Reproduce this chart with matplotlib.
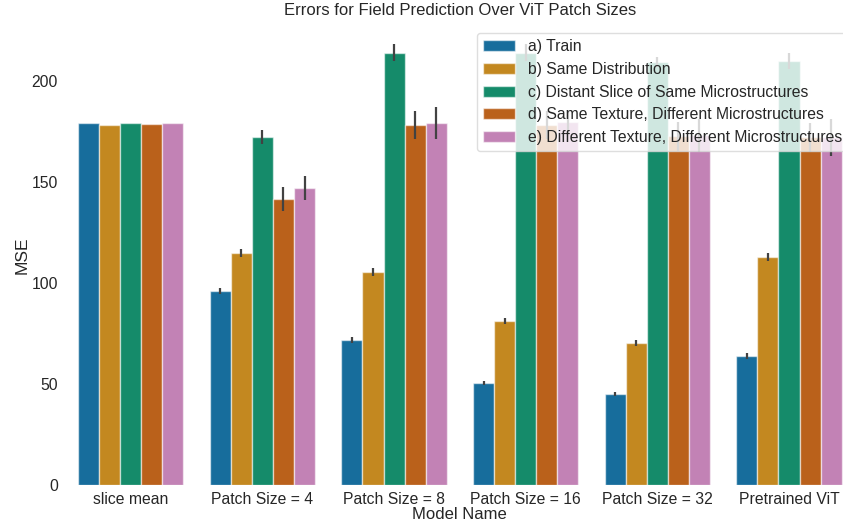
import numpy as np
import matplotlib
matplotlib.use("Agg")
import matplotlib.pyplot as plt
import seaborn as sns

# MSE per model for each evaluation split, with the spread shown as error bars
models = ["slice mean", "Patch Size = 4", "Patch Size = 8",
          "Patch Size = 16", "Patch Size = 32", "Pretrained ViT"]
splits = ["a) Train", "b) Same Distribution",
          "c) Distant Slice of Same Microstructures",
          "d) Same Texture, Different Microstructures",
          "e) Different Texture, Different Microstructures"]

train = [179, 96, 72, 50.5, 45, 64]
same_dist = [178, 115, 105.5, 81, 70.5, 113]
distant_slice = [179, 172, 214, 214, 209.5, 210]
same_texture = [178.5, 141.5, 178, 178, 172.5, 172]
diff_texture = [179, 147, 179, 179.5, 173, 172]

train_err = [0, 1.5, 1.5, 1.2, 1.0, 1.5]
same_dist_err = [0, 2, 2, 1.5, 1.5, 2]
distant_slice_err = [0, 3.5, 4, 4, 2.5, 4]
same_texture_err = [0, 6, 7, 7, 7, 7]
diff_texture_err = [0, 6, 8, 6, 8, 9]

values = [train, same_dist, distant_slice, same_texture, diff_texture]
errors = [train_err, same_dist_err, distant_slice_err,
          same_texture_err, diff_texture_err]

plt.rcParams["font.family"] = ["Liberation Sans", "DejaVu Sans"]
colors = sns.color_palette("colorblind", desat=0.75)

fig = plt.figure(figsize=(8.43, 5.25), dpi=100)
ax = fig.add_axes([0.077, 0.076, 0.937, 0.874])

x = np.arange(len(models))
width = 0.8 / len(splits)
for i, (label, vals, errs) in enumerate(zip(splits, values, errors)):
    pos = x - 0.4 + width * (i + 0.5)
    ax.bar(pos, vals, width, color=colors[i], label=label,
           edgecolor=(1, 1, 1, 0.55), linewidth=1)
    errs = np.array(errs)
    has_err = errs > 0
    ax.errorbar(pos[has_err], np.array(vals)[has_err], yerr=errs[has_err],
                fmt="none", ecolor="#424242", elinewidth=1.6, capsize=0)

ax.set_xlim(-0.5, len(models) - 0.5)
ax.set_ylim(0, 227)
ax.set_xticks(x)
ax.set_xticklabels(models)
ax.set_yticks([0, 50, 100, 150, 200])
ax.tick_params(axis="both", length=0, labelsize=11.3, colors="#262626", pad=5)
for side in ["top", "right", "left", "bottom"]:
    ax.spines[side].set_visible(False)

ax.set_xlabel("Model Name", fontsize=12, color="#262626", labelpad=0)
ax.set_ylabel("MSE", fontsize=12.5, color="#262626", labelpad=1)
ax.set_title("Errors for Field Prediction Over ViT Patch Sizes",
             fontsize=12, color="#262626", pad=8)

leg = ax.legend(loc="upper right", fontsize=11.3, framealpha=0.8,
                edgecolor="#d6d6d6", borderaxespad=0.4, labelspacing=0.5,
                handletextpad=0.85)
for t in leg.get_texts():
    t.set_color("#262626")

fig.savefig("out.png", dpi=100)
